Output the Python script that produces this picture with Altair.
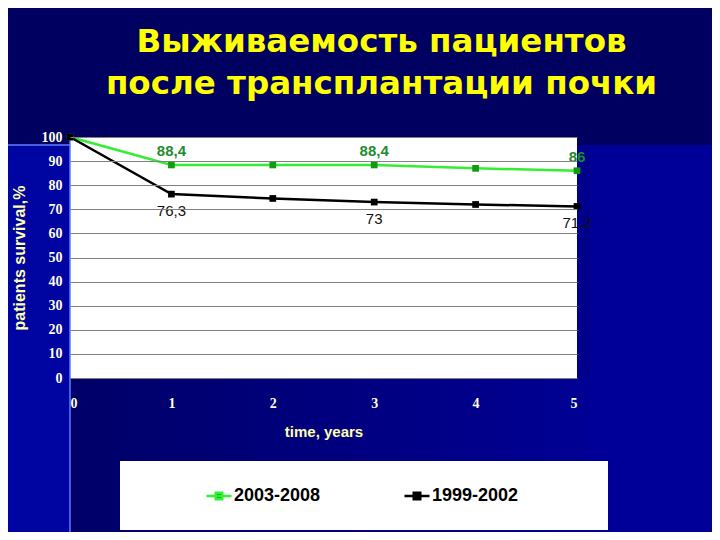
import altair as alt
import pandas as pd

# ---- data ----
years = [0, 1, 2, 3, 4, 5]
series_names = ["2003-2008", "1999-2002"]
surv_2003_2008 = [100, 88.4, 88.4, 88.4, 87.0, 86.0]
surv_1999_2002 = [100, 76.3, 74.5, 73.0, 72.0, 71.2]
labels_2003_2008 = ["", "88,4", "", "88,4", "", "86"]
labels_1999_2002 = ["", "76,3", "", "73", "", "71,2"]
title_lines = ["Выживаемость пациентов", "после трансплантации почки"]
x_title = "time, years"
y_title = "patients survival,%"
y_ticks = [0, 10, 20, 30, 40, 50, 60, 70, 80, 90, 100]

line_colors = ["#33EE33", "#000000"]
marker_colors = ["#129A12", "#000000"]

rows = []
for name, vals, labs in [
    (series_names[0], surv_2003_2008, labels_2003_2008),
    (series_names[1], surv_1999_2002, labels_1999_2002),
]:
    for yr, v, lab in zip(years, vals, labs):
        rows.append({"year": yr, "value": v, "series": name, "label": lab})
df = pd.DataFrame(rows)

W, H = 507, 241

x_enc = alt.X(
    "year:Q",
    scale=alt.Scale(domain=[0, 5], nice=False),
    axis=alt.Axis(
        values=years, tickCount=20, format="d", title=x_title, grid=False,
        domain=False, ticks=False,
        labelFont="Liberation Serif", labelFontWeight="bold", labelFontSize=14,
        labelColor="#FFFFE0", labelPadding=18,
        titleFont="Liberation Sans", titleFontSize=15, titleFontWeight="bold",
        titleColor="#FFFFB0", titlePadding=14, zindex=1,
    ),
)
y_enc = alt.Y(
    "value:Q",
    scale=alt.Scale(domain=[0, 100], nice=False),
    axis=alt.Axis(
        values=y_ticks, tickCount=20, title=y_title, grid=True, gridColor="#808080",
        gridWidth=1, domain=False, ticks=False, labelOverlap=False,
        labelFont="Liberation Serif", labelFontWeight="bold", labelFontSize=14,
        labelColor="#FFFFE8", labelPadding=8,
        titleFont="Liberation Sans", titleFontSize=16, titleFontWeight="bold",
        titleColor="#FFFFB0", titlePadding=14, zindex=1,
    ),
)

one = alt.Data(values=[{"a": 1}])

panel_gradient = alt.LinearGradient(
    gradient="linear",
    stops=[
        alt.GradientStop(offset=0, color="#000068"),
        alt.GradientStop(offset=1, color="#000094"),
    ],
)

lower_panel = alt.Chart(one).mark_rect(color=panel_gradient).encode(
    x=alt.value(0), x2=alt.value(520), y=alt.value(H), y2=alt.value(420)
)
gap_strip = alt.Chart(one).mark_rect(color="#00008C").encode(
    x=alt.value(W), x2=alt.value(520), y=alt.value(8), y2=alt.value(H)
)
left_strip = alt.Chart(one).mark_rect(color="#0004A0").encode(
    x=alt.value(-80), x2=alt.value(0), y=alt.value(8), y2=alt.value(420)
)
right_strip = alt.Chart(one).mark_rect(color="#000098").encode(
    x=alt.value(520), x2=alt.value(700), y=alt.value(8), y2=alt.value(420)
)
legend_box = alt.Chart(one).mark_rect(color="#FFFFFF").encode(
    x=alt.value(50), x2=alt.value(538), y=alt.value(324), y2=alt.value(393)
)
v_glow = alt.Chart(one).mark_rule(color="#5C7CFF", strokeWidth=1.5).encode(
    x=alt.value(0), y=alt.value(0), y2=alt.value(420)
)
h_glow = alt.Chart(one).mark_rule(color="#5C7CFF", strokeWidth=1.5).encode(
    x=alt.value(-80), x2=alt.value(0), y=alt.value(8)
)

base = alt.Chart(df)

lines = base.mark_line(strokeWidth=2.5).encode(
    x=x_enc,
    y=y_enc,
    color=alt.Color(
        "series:N",
        scale=alt.Scale(domain=series_names, range=line_colors),
        legend=alt.Legend(
            orient="none", legendX=135, legendY=345, direction="horizontal",
            title=None, labelFont="Liberation Sans", labelFontSize=18,
            labelFontWeight="bold", labelColor="#000000",
            symbolType="M-1,0L1,0M-0.26,-0.26L0.26,-0.26L0.26,0.26L-0.26,0.26Z",
            symbolSize=625, symbolStrokeWidth=2.5, columnPadding=78,
            labelOffset=1, padding=0, zindex=1,
        ),
    ),
)

points = base.mark_square(size=45, opacity=1).encode(
    x=x_enc,
    y=y_enc,
    fill=alt.Fill(
        "series:N",
        scale=alt.Scale(domain=series_names, range=marker_colors),
        legend=None,
    ),
)

green_labels = base.transform_filter(
    alt.datum.series == series_names[0]
).mark_text(
    dy=-14, font="Liberation Sans", fontSize=15, fontWeight="bold", color="#1E8C2E"
).encode(x=x_enc, y=y_enc, text="label:N")

black_labels = base.transform_filter(
    alt.datum.series == series_names[1]
).mark_text(
    dy=17, font="Liberation Sans", fontSize=15, color="#111111"
).encode(x=x_enc, y=y_enc, text="label:N")

chart = alt.layer(
    lower_panel, gap_strip, left_strip, right_strip, legend_box, v_glow, h_glow,
    lines, points, green_labels, black_labels,
).properties(
    width=W,
    height=H,
    title=alt.TitleParams(
        title_lines, font="DejaVu Sans", fontSize=32.5, fontWeight="bold",
        color="#FFFF00", anchor="middle", dx=58, offset=-17, baseline="bottom",
        lineHeight=42,
    ),
    autosize=alt.AutoSizeParams(type="none"),
    padding={"left": 62, "top": 129, "right": 135, "bottom": 154},
).configure(
    background="#000060",
).configure_view(
    fill="#FFFFFF", stroke=None,
)

chart.save("out.html", embed_options={"renderer": "svg", "actions": False})
